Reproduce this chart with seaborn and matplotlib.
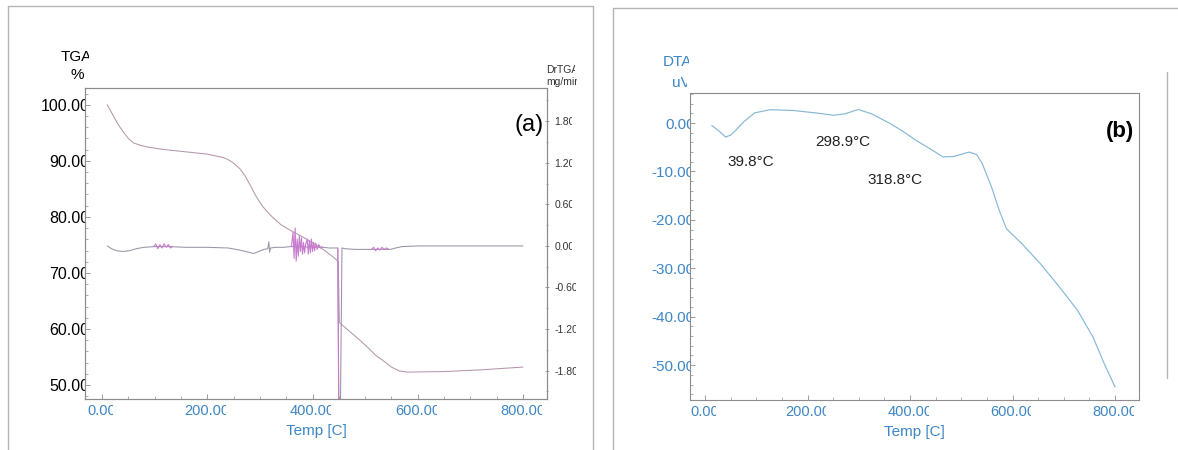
import matplotlib
matplotlib.use("Agg")
import matplotlib.pyplot as plt
import seaborn as sns
from matplotlib.lines import Line2D
from matplotlib.ticker import FixedLocator, FuncFormatter, AutoMinorLocator
from matplotlib.transforms import Bbox, TransformedBbox, IdentityTransform

# ---------------- data ----------------
# TGA mass curve (%)
tga_temp = [10, 20, 30, 40, 50, 60, 75, 90, 120, 160, 200, 230, 240, 250, 262, 272,
            282, 292, 305, 320, 340, 360, 380, 400, 420, 440, 449, 451, 454, 470,
            490, 505, 520, 535, 550, 565, 580, 650, 720, 800]
tga_val = [100.0, 98.3, 96.6, 95.2, 94.0, 93.2, 92.7, 92.4, 92.0, 91.6, 91.2, 90.6,
           90.2, 89.6, 88.6, 87.3, 85.6, 83.8, 81.9, 80.3, 78.6, 77.5, 76.5, 75.4,
           74.2, 72.8, 72.0, 61.2, 60.9, 59.6, 58.0, 56.7, 55.3, 54.3, 53.2, 52.5,
           52.3, 52.4, 52.7, 53.2]

# DrTGA baseline (mg/min)
drtg_temp = [10, 18, 28, 40, 52, 65, 80, 100, 130, 160, 200, 240, 262, 278, 288, 298,
             308, 315, 317, 318.5, 320, 330, 345, 358, 420, 432, 444, 448, 450, 453,
             456, 462, 480, 500, 515, 548, 558, 570, 600, 700, 800]
drtg_val = [0.0, -0.04, -0.07, -0.08, -0.07, -0.04, -0.02, -0.01, -0.01, -0.02, -0.02,
            -0.03, -0.06, -0.09, -0.11, -0.08, -0.05, -0.04, 0.06, -0.09, -0.03, -0.02,
            -0.02, -0.01, -0.02, -0.03, -0.03, -0.03, -2.4, -2.4, -0.03, -0.04, -0.05,
            -0.05, -0.05, -0.05, -0.03, -0.01, 0.0, 0.0, 0.0]

# DrTGA noisy stretches
noise1_temp = [98, 102, 106, 110, 114, 118, 122, 126, 130, 134]
noise1_val = [-0.01, 0.03, -0.04, 0.02, -0.03, 0.03, -0.02, 0.02, -0.03, -0.01]
noise2_temp = [360, 363, 365, 367, 369, 371, 373, 375, 377, 379, 381, 383, 385, 387,
               390, 392, 394, 396, 398, 400, 402, 404, 406, 409, 412, 415, 418]
noise2_val = [-0.01, 0.2, -0.18, 0.26, -0.22, 0.1, -0.15, 0.15, -0.08, 0.12, -0.12,
              0.05, -0.1, 0.02, 0.1, -0.12, 0.08, -0.1, 0.1, -0.08, 0.05, -0.07, 0.04,
              -0.05, 0.02, -0.03, -0.01]
noise3_temp = [512, 516, 520, 524, 528, 532, 536, 540, 544]
noise3_val = [-0.05, -0.02, -0.07, -0.03, -0.06, -0.02, -0.05, -0.03, -0.04]
spike_temp = [448, 450, 453]
spike_val = [-0.03, -2.4, -2.4]

# DTA signal (uV)
dta_temp = [13, 28, 40, 50, 60, 75, 97, 127, 171, 215, 251, 273, 299, 325, 361, 383,
            412, 442, 464, 486, 515, 530, 541, 559, 574, 588, 618, 654, 691, 727, 757,
            779, 800]
dta_val = [-0.5, -1.7, -2.9, -2.5, -1.5, 0.2, 2.1, 2.75, 2.6, 2.1, 1.6, 1.9, 2.8, 1.9,
           -0.1, -1.5, -3.6, -5.5, -7.0, -6.9, -6.0, -6.5, -8.4, -13.2, -18.0, -21.8,
           -24.9, -29.0, -33.8, -38.7, -44.2, -49.7, -54.5]

peak_labels = ["39.8°C", "298.9°C", "318.8°C"]
peak_label_x = [43, 215, 316]
peak_label_y = [-8.1, -3.9, -11.8]

temp_ticks = [0, 200, 400, 600, 800]
tga_ticks = [50, 60, 70, 80, 90, 100]
drtg_ticks = [-1.8, -1.2, -0.6, 0.0, 0.6, 1.2, 1.8]
dta_ticks = [-50, -40, -30, -20, -10, 0]

# ---------------- style ----------------
sns.set_theme(style="white")
plt.rcParams["font.family"] = ["Liberation Sans", "DejaVu Sans"]

W, H = 1178, 450
BLUE = "#3d86c6"
SPINE = "#8c8c8c"
TGA_C = "#b496ab"
DRTG_C = "#9a93a3"
NOISE_C = "#c77dcf"
DTA_C = "#86b8d6"

fig = plt.figure(figsize=(W / 100, H / 100), dpi=100)
fig.patch.set_facecolor("white")


def px_axes(x0, y0, x1, y1):
    return fig.add_axes([x0 / W, 1 - y1 / H, (x1 - x0) / W, (y1 - y0) / H])


axL = px_axes(85, 88, 547, 399)
axD = axL.twinx()
axR = px_axes(690, 93, 1139, 400)

fmt2 = FuncFormatter(lambda v, p: f"{v:.2f}")


def style_box(ax):
    for s in ax.spines.values():
        s.set_visible(True)
        s.set_color(SPINE)
        s.set_linewidth(0.8)


# ---------------- panel (a) ----------------
sns.lineplot(x=tga_temp, y=tga_val, ax=axL, color=TGA_C, linewidth=0.75,
             estimator=None, sort=False)
sns.lineplot(x=drtg_temp, y=drtg_val, ax=axD, color=DRTG_C, linewidth=0.75,
             estimator=None, sort=False)
for xs, ys in [(noise1_temp, noise1_val), (noise2_temp, noise2_val),
               (noise3_temp, noise3_val), (spike_temp, spike_val)]:
    sns.lineplot(x=xs, y=ys, ax=axD, color=NOISE_C, linewidth=0.8,
                 estimator=None, sort=False)

axL.set_xlim(-32.3, 845.6)
axL.set_ylim(47.5, 103.0)
axD.set_ylim(-2.21, 2.28)

style_box(axL)
style_box(axD)

axL.xaxis.set_major_locator(FixedLocator(temp_ticks))
axL.xaxis.set_major_formatter(fmt2)
axL.xaxis.set_minor_locator(AutoMinorLocator(4))
axL.yaxis.set_major_locator(FixedLocator(tga_ticks))
axL.yaxis.set_major_formatter(fmt2)
axL.yaxis.set_minor_locator(AutoMinorLocator(5))
axD.yaxis.set_major_locator(FixedLocator(drtg_ticks))
axD.yaxis.set_major_formatter(fmt2)
axD.yaxis.set_minor_locator(AutoMinorLocator(2))

axL.tick_params(axis="x", which="both", direction="in", colors=SPINE, labelcolor=BLUE,
                labelsize=10.5, pad=3.6, bottom=True, top=False)
axL.tick_params(axis="y", which="both", direction="in", colors=SPINE, labelcolor="black",
                labelsize=11.5, pad=-3.3, left=True, right=False)
axD.tick_params(axis="y", which="both", direction="inout", colors=SPINE, labelcolor="#333333",
                labelsize=7.5, pad=3.5, right=True, left=False)
for ax in (axL, axD):
    ax.tick_params(which="major", length=3.5, width=0.6)
    ax.tick_params(which="minor", length=2, width=0.5)
axL.set_ylabel("")
axD.set_ylabel("")
axL.set_xlabel("Temp [C]", color=BLUE, fontsize=11, labelpad=4)

axL.text(0.9935, 0.881, "(a)", transform=axL.transAxes, ha="right", va="center",
         fontsize=17, color="black")

# ---------------- panel (b) ----------------
sns.lineplot(x=dta_temp, y=dta_val, ax=axR, color=DTA_C, linewidth=0.85,
             estimator=None, sort=False)
axR.set_xlim(-29.3, 846.8)
axR.set_ylim(-57.2, 6.2)
style_box(axR)
axR.xaxis.set_major_locator(FixedLocator(temp_ticks))
axR.xaxis.set_major_formatter(fmt2)
axR.xaxis.set_minor_locator(AutoMinorLocator(4))
axR.yaxis.set_major_locator(FixedLocator(dta_ticks))
axR.yaxis.set_major_formatter(fmt2)
axR.yaxis.set_minor_locator(AutoMinorLocator(5))
axR.tick_params(axis="x", which="both", direction="in", colors=SPINE, labelcolor=BLUE,
                labelsize=10.5, pad=3.6, bottom=True, top=False)
axR.tick_params(axis="y", which="both", direction="in", colors=SPINE, labelcolor=BLUE,
                labelsize=11, pad=-3.3, left=True, right=False)
axR.tick_params(which="major", length=3.5, width=0.6)
axR.tick_params(which="minor", length=2, width=0.5)
axR.set_ylabel("")
axR.set_xlabel("Temp [C]", color=BLUE, fontsize=11, labelpad=4)

for s, tx, ty in zip(peak_labels, peak_label_x, peak_label_y):
    axR.text(tx, ty, s, ha="left", va="center", fontsize=11, color="#222222")
axR.text(0.989, 0.873, "(b)", transform=axR.transAxes, ha="right", va="center",
         fontsize=16, fontweight="bold", color="black")

# ---------------- axis titles ----------------
def ftext(x, y, s, **kw):
    return fig.text(x / W, 1 - y / H, s, **kw)


t_tga = ftext(61, 57, "TGA", ha="left", va="center", fontsize=11, color="black")
ftext(77, 75, "%", ha="center", va="center", fontsize=11, color="black")
t_drtg = ftext(546, 70, "DrTGA", ha="left", va="center", fontsize=7.5, color="#333333")
t_mg = ftext(546, 82, "mg/min", ha="left", va="center", fontsize=7.5, color="#333333")
t_dta = ftext(663, 62, "DTA", ha="left", va="center", fontsize=11, color=BLUE)
t_uv = ftext(672, 83, "uV", ha="left", va="center", fontsize=11, color=BLUE)

# ---------------- panel frames ----------------
frame_kw = dict(color="#b5b5b5", linewidth=1.0, transform=fig.transFigure)
for xs, ys in [((8, 8), (6, 450)), ((8, 593), (6, 6)), ((593, 593), (6, 450)),
               ((613, 613), (8, 450)), ((613, 1178), (8, 8)), ((1167, 1167), (72, 378))]:
    fig.add_artist(Line2D([x / W for x in xs], [1 - y / H for y in ys], **frame_kw))

# ---------------- trim the last glyph of each label ----------------
fig.canvas.draw()
renderer = fig.canvas.get_renderer()


def trim(texts, frac=0.5):
    for t in texts:
        s = t.get_text()
        if not s or not t.get_visible():
            continue
        bb = t.get_window_extent(renderer)
        cw = bb.width / len(s)
        box = Bbox([[bb.x0 - 4, bb.y0 - 4], [bb.x1 - frac * cw, bb.y1 + 4]])
        t.set_clip_box(TransformedBbox(box, IdentityTransform()))
        t.set_clip_on(True)


trim(axL.get_xticklabels())
trim(axL.get_yticklabels())
trim(axD.get_yticklabels())
trim(axR.get_xticklabels())
trim(axR.get_yticklabels())
trim([t_tga, t_dta, t_uv], frac=0.35)
trim([t_drtg], frac=0.45)
trim([t_mg], frac=0.5)

fig.savefig("out.png", dpi=100, facecolor="white")
